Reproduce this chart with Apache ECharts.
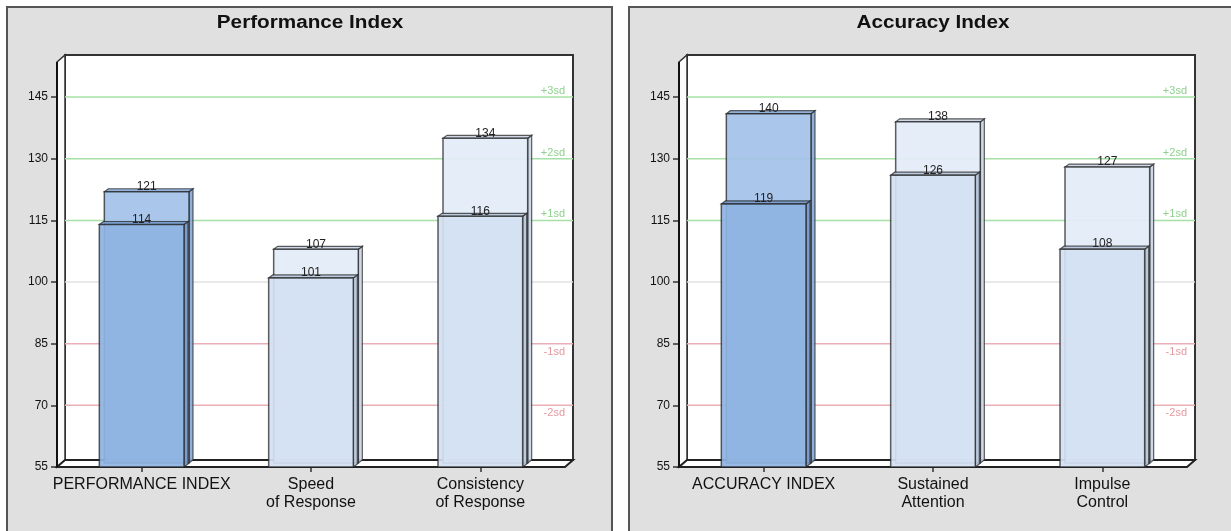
<!DOCTYPE html>
<html>
<head>
<meta charset="utf-8">
<script src="https://cdn.jsdelivr.net/npm/echarts@6/dist/echarts.min.js"></script>
<style>
html,body{margin:0;padding:0;background:#fff;}
#chart{width:1231px;height:531px;}
</style>
</head>
<body>
<div id="chart"></div>
<script>
// ---- data ----
const titles = ['Performance Index', 'Accuracy Index'];
const categoriesL = ['PERFORMANCE INDEX', 'Speed\nof Response', 'Consistency\nof Response'];
const backL = [121, 107, 134];
const frontL = [114, 101, 116];
const categoriesR = ['ACCURACY INDEX', 'Sustained\nAttention', 'Impulse\nControl'];
const backR = [140, 138, 127];
const frontR = [119, 126, 108];
const yTicks = [55, 70, 85, 100, 115, 130, 145];
const refLevels = [145, 130, 115, 100, 85, 70];
const refLabels = ['+3sd', '+2sd', '+1sd', '', '-1sd', '-2sd'];
const yMin = 55, yMax = 155;

// ---- styling constants ----
const FONT = "'Liberation Sans', Arial, sans-serif";
const DX = 8, DY = 7; // wall depth

function frameRender(params, api) {
  const cs = params.coordSys;
  const x0 = cs.x, y0 = cs.y, w = cs.width, h = cs.height, yb = y0 + h;
  return {
    type: 'group',
    children: [
      { type: 'rect', shape: { x: x0 + DX, y: y0 - 1, width: w, height: h - DY + 1 },
        style: { fill: '#ffffff', stroke: '#333', lineWidth: 2 } },
      { type: 'polygon', shape: { points: [[x0, y0 + 6], [x0 + DX, y0 - 1], [x0 + DX, yb - DY], [x0, yb]] },
        style: { fill: '#fbfbfb', stroke: '#333', lineWidth: 1.5 } },
      { type: 'polygon', shape: { points: [[x0, yb], [x0 + w, yb], [x0 + w + DX, yb - DY], [x0 + DX, yb - DY]] },
        style: { fill: '#ffffff', stroke: '#222', lineWidth: 2 } },
      { type: 'line', shape: { x1: x0, y1: y0 + 6, x2: x0, y2: yb },
        style: { stroke: '#111', lineWidth: 2 } }
    ]
  };
}

function refRender(params, api) {
  const cs = params.coordSys;
  const lvl = api.value(1);
  const idx = params.dataIndex;
  const y = api.coord([0, lvl])[1];
  let lineColor, textColor;
  if (lvl > 100) { lineColor = '#a6e0a6'; textColor = '#8fd08f'; }
  else if (lvl < 100) { lineColor = '#eab0b6'; textColor = '#e39a9f'; }
  else { lineColor = '#e2e2e2'; textColor = '#bbb'; }
  const xr = cs.x + cs.width + DX;
  return {
    type: 'group',
    children: [
      { type: 'line', shape: { x1: cs.x + DX, y1: y, x2: xr, y2: y },
        style: { stroke: lineColor, lineWidth: 1.5 } },
      { type: 'text', x: xr - 8, y: lvl > 100 ? y - 6 : y + 8,
        style: { text: refLabels[idx], fill: textColor, font: '11px ' + FONT,
                 textAlign: 'right', textVerticalAlign: 'middle' } }
    ]
  };
}

function makeBarRender(isBack) {
  return function (params, api) {
    const i = api.value(0), v = api.value(1);
    const p = api.coord([i, v]);
    const base = api.coord([i, yMin]);
    const bw = api.size([1, 0])[0] * 0.5;
    const ox = isBack ? 5 : 0, oy = isBack ? -4 : 0;
    const xl = p[0] - bw / 2 + ox, xr = p[0] + bw / 2 + ox;
    const yt = p[1] + oy, yb = base[1] + oy;
    const sx = 4, sy = 3;
    const dark = (i === 0);
    const fill = dark ? (isBack ? '#a3c1e8' : '#8eb3e2') : (isBack ? '#e3ebf7' : '#d4e1f2');
    const side = dark ? (isBack ? '#86a6d3' : '#7498cb') : (isBack ? '#c9d4e4' : '#b6c5dc');
    const stroke = 'rgba(35,35,35,0.8)';
    return {
      type: 'group',
      children: [
        { type: 'polygon', shape: { points: [[xr, yt], [xr + sx, yt - sy], [xr + sx, yb - sy], [xr, yb]] },
          style: { fill: side, stroke: stroke, lineWidth: 1.2, opacity: 0.9 } },
        { type: 'polygon', shape: { points: [[xl, yt], [xl + sx, yt - sy], [xr + sx, yt - sy], [xr, yt]] },
          style: { fill: side, stroke: stroke, lineWidth: 1.2, opacity: 0.9 } },
        { type: 'rect', shape: { x: xl, y: yt, width: xr - xl, height: yb - yt },
          style: { fill: fill, stroke: stroke, lineWidth: 1.5, opacity: 0.92 } },
        { type: 'text', x: (xl + xr) / 2, y: yt + 1,
          style: { text: String(v), fill: '#222', font: '12px ' + FONT,
                   textAlign: 'center', textVerticalAlign: 'bottom' } }
      ]
    };
  };
}

const grids = [
  { left: 57, top: 56, width: 508, height: 411 },
  { left: 679, top: 56, width: 508, height: 411 }
];

function xAxisFor(gi, cats) {
  return {
    type: 'category', gridIndex: gi, data: cats,
    axisLine: { show: false },
    axisTick: { show: true, alignWithLabel: true, length: 5, lineStyle: { color: '#333', width: 1.5 } },
    axisLabel: { interval: 0, color: '#111', fontSize: 16, lineHeight: 18, margin: 9, fontFamily: FONT },
    splitLine: { show: false }
  };
}
function yAxisFor(gi) {
  return {
    type: 'value', gridIndex: gi, min: yMin, max: yMax,
    axisLine: { show: false },
    splitLine: { show: false },
    axisTick: { show: true, customValues: yTicks, length: 6, lineStyle: { color: '#333', width: 1.5 } },
    axisLabel: { customValues: yTicks, color: '#111', fontSize: 12, margin: 9, fontFamily: FONT }
  };
}

const sets = [
  { cats: categoriesL, back: backL, front: frontL },
  { cats: categoriesR, back: backR, front: frontR }
];

const series = [];
sets.forEach((s, gi) => {
  series.push({ type: 'custom', xAxisIndex: gi, yAxisIndex: gi, z: 1, silent: true,
    renderItem: frameRender, data: [[0, yMin]] });
  series.push({ type: 'custom', xAxisIndex: gi, yAxisIndex: gi, z: 2, silent: true,
    renderItem: refRender, data: refLevels.map(l => [0, l]) });
  series.push({ type: 'custom', xAxisIndex: gi, yAxisIndex: gi, z: 3, silent: true,
    renderItem: makeBarRender(true), data: s.back.map((v, i) => [i, v]) });
  series.push({ type: 'custom', xAxisIndex: gi, yAxisIndex: gi, z: 4, silent: true,
    renderItem: makeBarRender(false), data: s.front.map((v, i) => [i, v]) });
});

const chart = echarts.init(document.getElementById('chart'), null, { renderer: 'canvas' });
chart.setOption({
  backgroundColor: '#ffffff',
  animation: false,
  grid: grids,
  xAxis: sets.map((s, gi) => xAxisFor(gi, s.cats)),
  yAxis: sets.map((s, gi) => yAxisFor(gi)),
  graphic: [
    { type: 'rect', z: -10, shape: { x: 7, y: 7, width: 605, height: 540 },
      style: { fill: '#e0e0e0', stroke: '#555', lineWidth: 2 } },
    { type: 'rect', z: -10, shape: { x: 629, y: 7, width: 620, height: 540 },
      style: { fill: '#e0e0e0', stroke: '#555', lineWidth: 2 } },
    { type: 'text', z: 10, x: 310, y: 23, scaleX: 1.15,
      style: { text: titles[0], font: 'bold 18px ' + FONT, fill: '#111', textAlign: 'center', textVerticalAlign: 'middle' } },
    { type: 'text', z: 10, x: 933, y: 23, scaleX: 1.15,
      style: { text: titles[1], font: 'bold 18px ' + FONT, fill: '#111', textAlign: 'center', textVerticalAlign: 'middle' } }
  ],
  series: series
});
</script>
</body>
</html>
